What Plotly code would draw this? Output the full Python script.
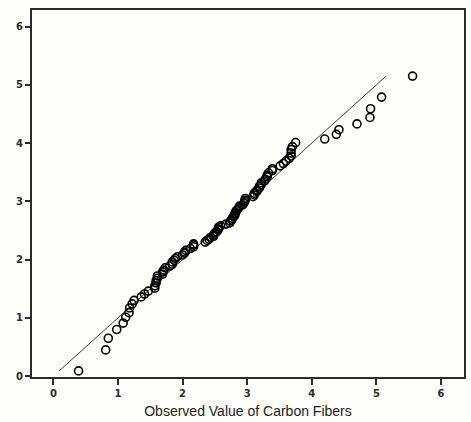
import plotly.graph_objects as go

# Carbon fibre strengths, sorted (observed values)
observed = [
    0.39, 0.81, 0.85, 0.98,
    1.08, 1.12, 1.17, 1.18, 1.22, 1.25, 1.36, 1.41, 1.47, 1.57, 1.57, 1.59, 1.59,
    1.61, 1.61, 1.69, 1.69, 1.71, 1.73, 1.80, 1.84, 1.84, 1.87, 1.89, 1.92,
    2.00, 2.03, 2.03, 2.05, 2.12, 2.17, 2.17, 2.17, 2.35, 2.38, 2.41, 2.43, 2.48,
    2.48, 2.50, 2.53, 2.55, 2.55, 2.56, 2.59, 2.67, 2.73, 2.74, 2.76, 2.77, 2.79,
    2.81, 2.81, 2.82, 2.83, 2.85, 2.87, 2.88, 2.93, 2.95, 2.96, 2.97, 2.97,
    3.09, 3.11, 3.11, 3.15, 3.15, 3.19, 3.19, 3.22, 3.22, 3.27, 3.28, 3.31, 3.31,
    3.33, 3.39, 3.39, 3.51, 3.56, 3.60, 3.65, 3.68, 3.68, 3.68, 3.70, 3.75,
    4.20, 4.38, 4.42, 4.70, 4.90, 4.91, 5.08, 5.56,
]

# Expected normal values for each ranked observation
expected = [
    0.09, 0.45, 0.65, 0.80, 0.91, 1.01, 1.09, 1.17, 1.24, 1.30,
    1.36, 1.41, 1.46, 1.51, 1.55, 1.60, 1.64, 1.68, 1.72, 1.75,
    1.79, 1.82, 1.86, 1.89, 1.92, 1.96, 1.99, 2.02, 2.05, 2.08,
    2.11, 2.13, 2.16, 2.19, 2.22, 2.25, 2.27, 2.30, 2.33, 2.35,
    2.38, 2.40, 2.43, 2.46, 2.48, 2.51, 2.53, 2.56, 2.58, 2.61,
    2.63, 2.66, 2.68, 2.71, 2.74, 2.76, 2.79, 2.81, 2.84, 2.86,
    2.89, 2.92, 2.94, 2.97, 3.00, 3.02, 3.05, 3.08, 3.11, 3.14,
    3.17, 3.19, 3.23, 3.26, 3.29, 3.32, 3.35, 3.38, 3.42, 3.45,
    3.49, 3.53, 3.56, 3.61, 3.65, 3.69, 3.74, 3.78, 3.83, 3.89,
    3.94, 4.01, 4.07, 4.15, 4.23, 4.33, 4.44, 4.59, 4.79, 5.15,
]

x_ticks = [0, 1, 2, 3, 4, 5, 6]
y_ticks = [0, 1, 2, 3, 4, 5, 6]

# Reference line y = x spanning the expected values
ref_line = [min(expected), max(expected)]

bg = "#fefefa"
ink = "#2b2b2b"

fig = go.Figure()
fig.add_trace(go.Scatter(
    x=ref_line, y=ref_line, mode="lines",
    line=dict(color="#3a3a3a", width=1),
    hoverinfo="skip", showlegend=False,
))
fig.add_trace(go.Scatter(
    x=observed, y=expected, mode="markers",
    marker=dict(symbol="circle-open", size=8, color="black",
                line=dict(width=1.6, color="black")),
    showlegend=False,
))

tickfont = dict(family="DejaVu Sans", size=10, color=ink, weight="bold")

fig.update_layout(
    width=471, height=422,
    margin=dict(l=32, r=5, t=10, b=42),
    paper_bgcolor=bg, plot_bgcolor=bg,
    xaxis=dict(
        range=[-0.331, 6.356], tickvals=x_ticks, ticktext=[str(v) for v in x_ticks],
        showgrid=False, zeroline=False,
        showline=True, mirror=True, linecolor=ink, linewidth=2,
        ticks="outside", ticklen=6, tickwidth=1.5, tickcolor=ink,
        tickfont=tickfont,
        title=dict(text="Observed Value of Carbon Fibers",
                   font=dict(family="Liberation Sans", size=14, color="#222222"),
                   standoff=8),
    ),
    yaxis=dict(
        range=[-0.015, 6.285], tickvals=y_ticks, ticktext=[str(v) for v in y_ticks],
        showgrid=False, zeroline=False,
        showline=True, mirror=True, linecolor=ink, linewidth=2,
        ticks="outside", ticklen=5, tickwidth=1.5, tickcolor=ink,
        tickfont=tickfont,
    ),
)

fig.write_html("out.html")
